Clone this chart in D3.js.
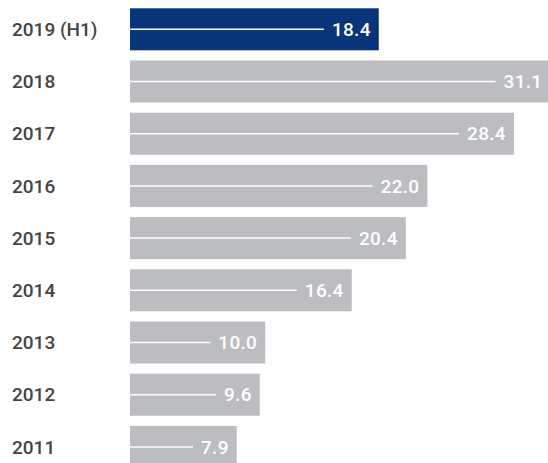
<!DOCTYPE html>
<html>
<head>
<meta charset="utf-8">
<script src="https://cdn.jsdelivr.net/npm/d3@7"></script>
<style>
  html, body { margin: 0; padding: 0; background: #fff; overflow: hidden; }
  svg { display: block; }
</style>
</head>
<body>
<svg id="chart" width="548" height="463"></svg>
<script>
const categories = ["2019 (H1)", "2018", "2017", "2016", "2015", "2014", "2013", "2012", "2011"];
const values = [18.4, 31.1, 28.4, 22.0, 20.4, 16.4, 10.0, 9.6, 7.9];
const valueLabels = ["18.4", "31.1", "28.4", "22.0", "20.4", "16.4", "10.0", "9.6", "7.9"];
const highlight = ["2019 (H1)"];

const svg = d3.select("#chart");
const fontFamily = "Roboto, 'Noto Sans', sans-serif";

const x = d3.scaleLinear().domain([0, 1]).range([130, 143.52]);
const y = d3.scaleBand().domain(categories).range([8.3, 467.9]).paddingInner(0.195).paddingOuter(0);

const data = categories.map((c, i) => ({ cat: c, v: values[i], label: valueLabels[i] }));

const g = svg.append("g");
const rows = g.selectAll("g.row").data(data).join("g").attr("class", "row");

rows.append("rect")
  .attr("x", x(0))
  .attr("y", d => y(d.cat))
  .attr("width", d => x(d.v) - x(0))
  .attr("height", y.bandwidth())
  .attr("fill", d => highlight.includes(d.cat) ? "#0b357b" : "#bcbdc0");

const vt = rows.append("text")
  .attr("x", d => x(d.v) - 8)
  .attr("y", d => y(d.cat) + y.bandwidth() / 2)
  .attr("dy", "0.35em")
  .attr("text-anchor", "end")
  .attr("fill", "#fff")
  .attr("font-family", fontFamily)
  .attr("font-weight", 500)
  .attr("font-size", 19)
  .attr("letter-spacing", 0.3)
  .text(d => d.label);

rows.append("line")
  .attr("x1", x(0))
  .attr("x2", function(d, i) { return vt.nodes()[i].getBBox().x - 8; })
  .attr("y1", d => y(d.cat) + y.bandwidth() / 2)
  .attr("y2", d => y(d.cat) + y.bandwidth() / 2)
  .attr("stroke", "#fff")
  .attr("stroke-width", 1.5);

rows.append("text")
  .attr("x", 12)
  .attr("y", d => y(d.cat) + y.bandwidth() / 2)
  .attr("dy", "0.35em")
  .attr("fill", "#444")
  .attr("font-family", fontFamily)
  .attr("font-weight", 500)
  .attr("font-size", 19)
  .text(d => d.cat);
</script>
</body>
</html>
